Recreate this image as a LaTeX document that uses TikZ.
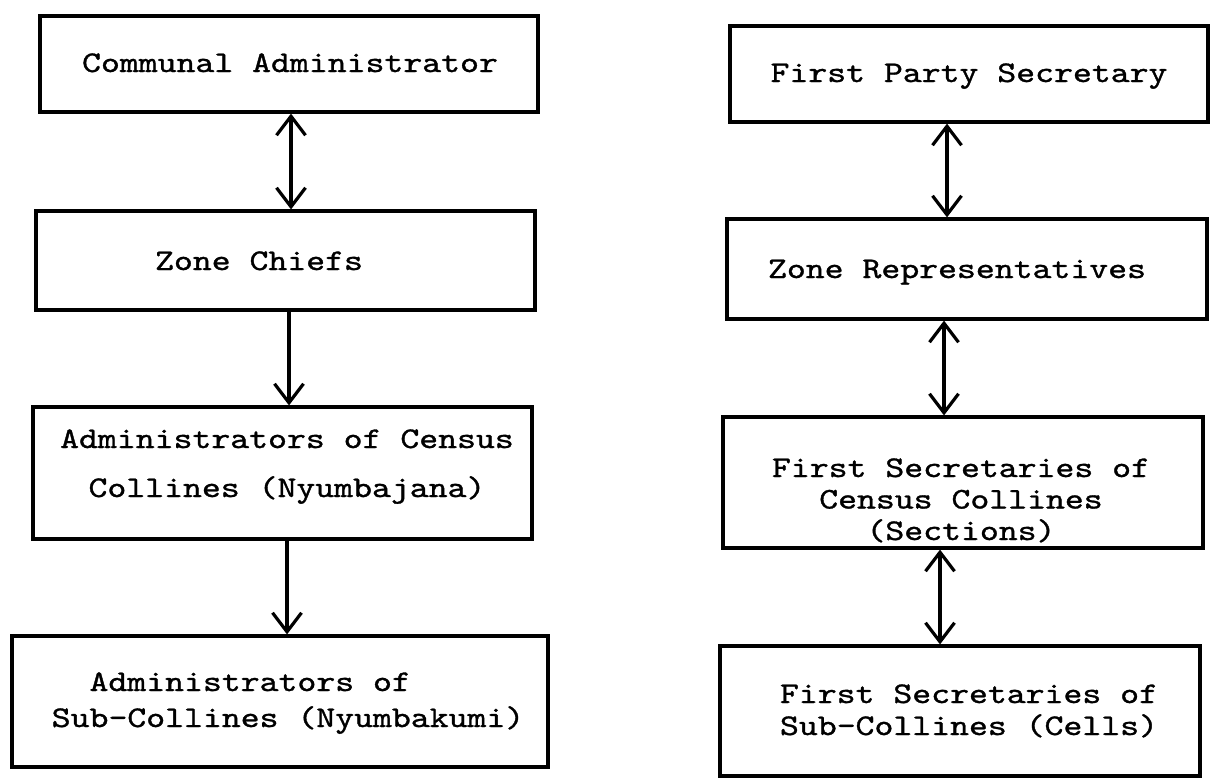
\documentclass[tikz,border=0pt]{standalone}
\usepackage{fontspec}
\usetikzlibrary{arrows.meta}
\newfontfamily\twfont{lmmono10-regular.otf}[FakeBold=1.0]
\newcommand{\twtext}[2]{\scalebox{1.2}[1]{\twfont\fontsize{30}{#1}\selectfont\begin{tabular}[t]{@{}c@{}}#2\end{tabular}}}
\newcommand{\twleft}[2]{\scalebox{1.2}[1]{\twfont\fontsize{30}{#1}\selectfont\begin{tabular}[t]{@{}l@{}}#2\end{tabular}}}
\tikzset{
  box/.style={draw, rectangle, line width=3.2pt, inner sep=0pt},
  lbl/.style={anchor=base, inner sep=0pt, outer sep=0pt},
  con/.style={line width=3.2pt, line cap=round, line join=round}
}
\begin{document}
\begin{tikzpicture}[x=1pt,y=-1pt,>={Straight Barb[length=19pt,width=29pt]}]
\useasboundingbox (0,0) rectangle (1215,779);
% left column boxes
\node[box, minimum width=498, minimum height=96]  (ca) at (289,64) {};
\node[box, minimum width=499, minimum height=99]  (zc) at (285.5,260.5) {};
\node[box, minimum width=499, minimum height=132] (ac) at (282.5,473) {};
\node[box, minimum width=536, minimum height=131] (as) at (280,701.5) {};
% right column boxes
\node[box, minimum width=478, minimum height=96]  (fp) at (969,74) {};
\node[box, minimum width=480, minimum height=100] (zr) at (967,269) {};
\node[box, minimum width=480, minimum height=131] (fc) at (963,482.5) {};
\node[box, minimum width=480, minimum height=130] (fs) at (960,711) {};
% texts
\node[lbl] (tca) at (290,72)  {\twtext{36}{Communal Administrator}};
\node[lbl] (tzc) at (259,270) {\twtext{36}{Zone Chiefs}};
\node[lbl] (tac) at (287,448) {\twtext{49}{Administrators of Census\\Collines (Nyumbajana)}};
\node[lbl] (tas) at (288,691) {\twleft{36}{\hphantom{xx}Administrators of\\Sub-Collines (Nyumbakumi)}};
\node[lbl] (tfp) at (969,82)  {\twtext{36}{First Party Secretary}};
\node[lbl] (tzr) at (957,278) {\twtext{36}{Zone Representatives}};
\node[lbl] (tfc) at (961,477) {\twtext{31.5}{First Secretaries of\\Census Collines\\(Sections)}};
\node[lbl] (tfs) at (969,703) {\twtext{32}{First Secretaries of\\Sub-Collines (Cells)}};
% connector x positions
\coordinate (l1) at (291,0);
\coordinate (l2) at (289,0);
\coordinate (l3) at (287,0);
\coordinate (r1) at (947,0);
\coordinate (r2) at (944,0);
\coordinate (r3) at (940,0);
% connectors
\draw[con,<->] (ca.south -| l1) -- (zc.north -| l1);
\draw[con,->]  (zc.south -| l2) -- (ac.north -| l2);
\draw[con,->]  (ac.south -| l3) -- (as.north -| l3);
\draw[con,<->] (fp.south -| r1) -- (zr.north -| r1);
\draw[con,<->] (zr.south -| r2) -- (fc.north -| r2);
\draw[con,<->] (fc.south -| r3) -- (fs.north -| r3);
\end{tikzpicture}
\end{document}
